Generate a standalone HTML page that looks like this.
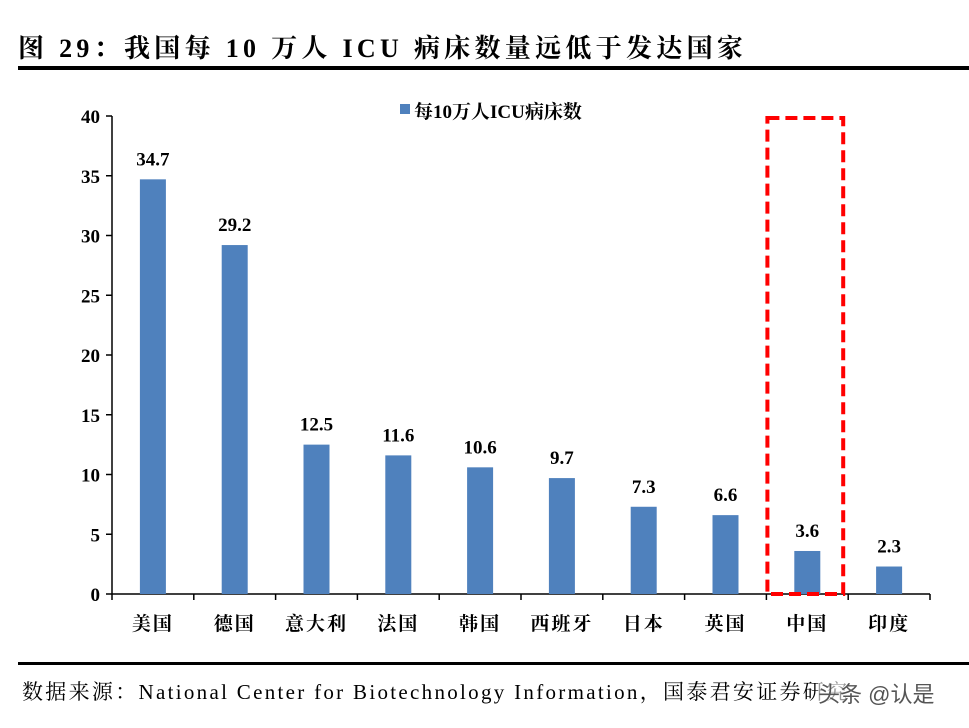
<!DOCTYPE html>
<html><head><meta charset="utf-8">
<style>
body{margin:0;background:#fff;width:969px;height:728px;overflow:hidden;position:relative;font-family:"Liberation Serif","Noto Serif CJK SC",serif;}
#title{position:absolute;left:18px;top:28px;font-size:26px;font-weight:bold;letter-spacing:4.3px;white-space:nowrap;}
.rule{position:absolute;left:18px;width:951px;height:4px;background:#000;}
#src{position:absolute;left:22px;top:676px;font-size:21px;white-space:nowrap;letter-spacing:2.3px;}
#wm{position:absolute;left:818px;top:677px;font-size:22px;color:#555;font-family:"Liberation Sans","Noto Sans CJK SC",sans-serif;background:rgba(255,255,255,0.6);}
</style></head><body>
<div id="title">图 29：我国每 10 万人 ICU 病床数量远低于发达国家</div>
<div class="rule" style="top:66px"></div>
<svg id="chart" width="969" height="728" style="position:absolute;left:0;top:0"></svg>
<div class="rule" style="top:662px;height:3px"></div>
<div id="src">数据来源：National Center for Biotechnology  Information，国泰君安证券研究</div>
<div id="wm">头条 @认是</div>
<script>
const categories=["美国","德国","意大利","法国","韩国","西班牙","日本","英国","中国","印度"];
const values=[34.7,29.2,12.5,11.6,10.6,9.7,7.3,6.6,3.6,2.3];
const yTicks=[0,5,10,15,20,25,30,35,40];
const svg=document.getElementById('chart');
const NS='http://www.w3.org/2000/svg';
const x0=112,x1=930,y0=594,y1=116,yMax=40;
const band=(x1-x0)/categories.length;
const yS=v=>y0-(v/yMax)*(y0-y1);
const xC=i=>x0+band*(i+0.5);
function mk(t,a){const e=document.createElementNS(NS,t);for(const k in a)e.setAttribute(k,a[k]);svg.appendChild(e);return e;}
let ax=mk('line',{x1:x0,y1:y1,x2:x0,y2:y0,stroke:'#000','stroke-width':1.5});


let bx=mk('line',{x1:x0,y1:y0,x2:x1,y2:y0,stroke:'#000','stroke-width':1.5});


yTicks.forEach(t=>{
  mk('line',{x1:x0-6,y1:yS(t),x2:x0,y2:yS(t),stroke:'#000','stroke-width':1.5});
  const tx=mk('text',{x:x0-12,y:yS(t)+7,'text-anchor':'end','font-size':19,'font-weight':'bold'});
  tx.textContent=t;
  
  
});
for(let i=0;i<=categories.length;i++){mk('line',{x1:x0+band*i,y1:y0,x2:x0+band*i,y2:y0+6,stroke:'#000','stroke-width':1.5});}
categories.forEach((c,i)=>{
  const v=values[i];
  const r=mk('rect',{x:xC(i)-13,y:yS(v),width:26,height:y0-yS(v),fill:'#4f81bd'});
  
  
  const vl=mk('text',{x:xC(i),y:yS(v)-14,'text-anchor':'middle','font-size':19,'font-weight':'bold'});
  vl.textContent=v.toFixed(1);
  
  
  const cl=mk('text',{x:xC(i),y:630,'text-anchor':'middle','font-size':19,'font-weight':'bold','letter-spacing':2});
  cl.textContent=c;
  
  
});
const hi=categories.indexOf("中国");
const box=mk('rect',{x:x0+band*hi+1,y:118,width:band-6,height:y0-118,fill:'none',stroke:'#ff0000','stroke-width':4,'stroke-dasharray':'12,6'});


const ls=mk('rect',{x:400,y:104,width:10,height:10,fill:'#4f81bd'});


const lt=mk('text',{x:414,y:118,'font-size':19,'font-weight':'bold'});
lt.textContent='每10万人ICU病床数';


</script>
</body></html>
